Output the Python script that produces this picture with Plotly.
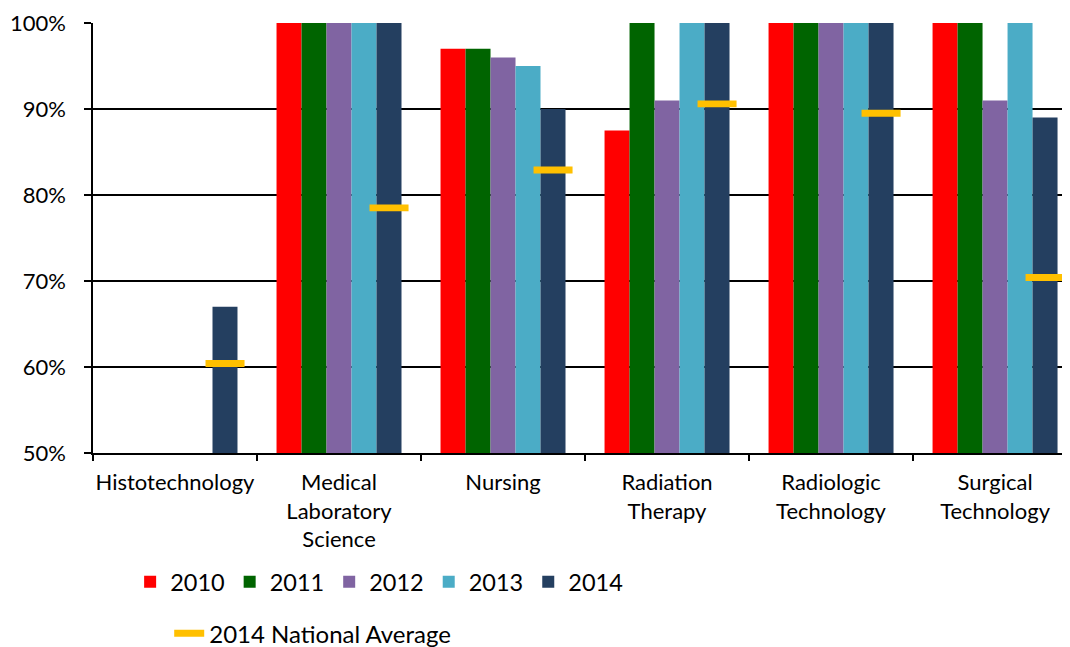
import plotly.graph_objects as go

categories = ["Histotechnology", "Medical<br>Laboratory<br>Science", "Nursing",
              "Radiation<br>Therapy", "Radiologic<br>Technology", "Surgical<br>Technology"]
years = ["2010", "2011", "2012", "2013", "2014"]
v2010 = [None, 100, 97, 87.5, 100, 100]
v2011 = [None, 100, 97, 100, 100, 100]
v2012 = [None, 100, 96, 91, 100, 91]
v2013 = [None, 100, 95, 100, 100, 100]
v2014 = [67, 100, 90, 100, 100, 89]
national_avg_2014 = [60.4, 78.5, 82.9, 90.6, 89.5, 70.4]
y_tick_values = [50, 60, 70, 80, 90, 100]
y_tick_labels = ["50%", "60%", "70%", "80%", "90%", "100%"]

colors = ["#FF0000", "#006400", "#8064A2", "#4BACC6", "#243F60"]
avg_color = "#FFC000"
FONT = "Lato"

fig = go.Figure()
for name, vals, col in zip(years, [v2010, v2011, v2012, v2013, v2014], colors):
    fig.add_trace(go.Bar(x=categories, y=vals, name=name, marker_color=col,
                         marker_line_width=0, legend="legend"))

# national average markers (thin bars centred over the 2014 bar)
thick = 0.8
fig.add_trace(go.Bar(x=categories, y=[thick] * len(national_avg_2014),
                     base=[a - thick / 2 for a in national_avg_2014],
                     width=0.238, offset=0.186, marker_color=avg_color,
                     marker_line_width=0, showlegend=False, hoverinfo="skip"))
# legend entry for national average
fig.add_trace(go.Scatter(x=[None], y=[None], mode="lines", name="2014 National Average",
                         line=dict(color=avg_color, width=7), legend="legend2"))

fig.update_layout(
    width=1062, height=639,
    margin=dict(l=85, r=0, t=15, b=194, autoexpand=False),
    paper_bgcolor="white", plot_bgcolor="white",
    barmode="group", bargap=0.238, bargroupgap=0,
    font=dict(family=FONT, size=22, color="#000000"),
    legend=dict(orientation="h", x=0.038, y=-0.30, xanchor="left", yanchor="middle",
                font=dict(size=23.5), traceorder="normal"),
    legend2=dict(orientation="h", x=0.078, y=-0.42, xanchor="left", yanchor="middle",
                 font=dict(size=24)),
)
fig.update_xaxes(type="category", range=[-0.5, 5.457], showline=True, linecolor="black",
                 linewidth=1.5, ticks="outside", tickson="boundaries", ticklen=6,
                 tickcolor="black", tickwidth=1.5, showgrid=False, automargin=False,
                 tickangle=0, tickfont=dict(size=22), ticklabelstandoff=9)
fig.update_yaxes(range=[50, 100], tickmode="array", tickvals=y_tick_values,
                 ticktext=y_tick_labels, automargin=False,
                 showline=True, linecolor="black", linewidth=1.5, ticks="outside",
                 ticklen=7, tickcolor="black", tickwidth=1.5, showgrid=True,
                 gridcolor="black", gridwidth=1.5, zeroline=False,
                 tickfont=dict(size=22), ticklabelstandoff=14)

fig.write_html("out.html")
